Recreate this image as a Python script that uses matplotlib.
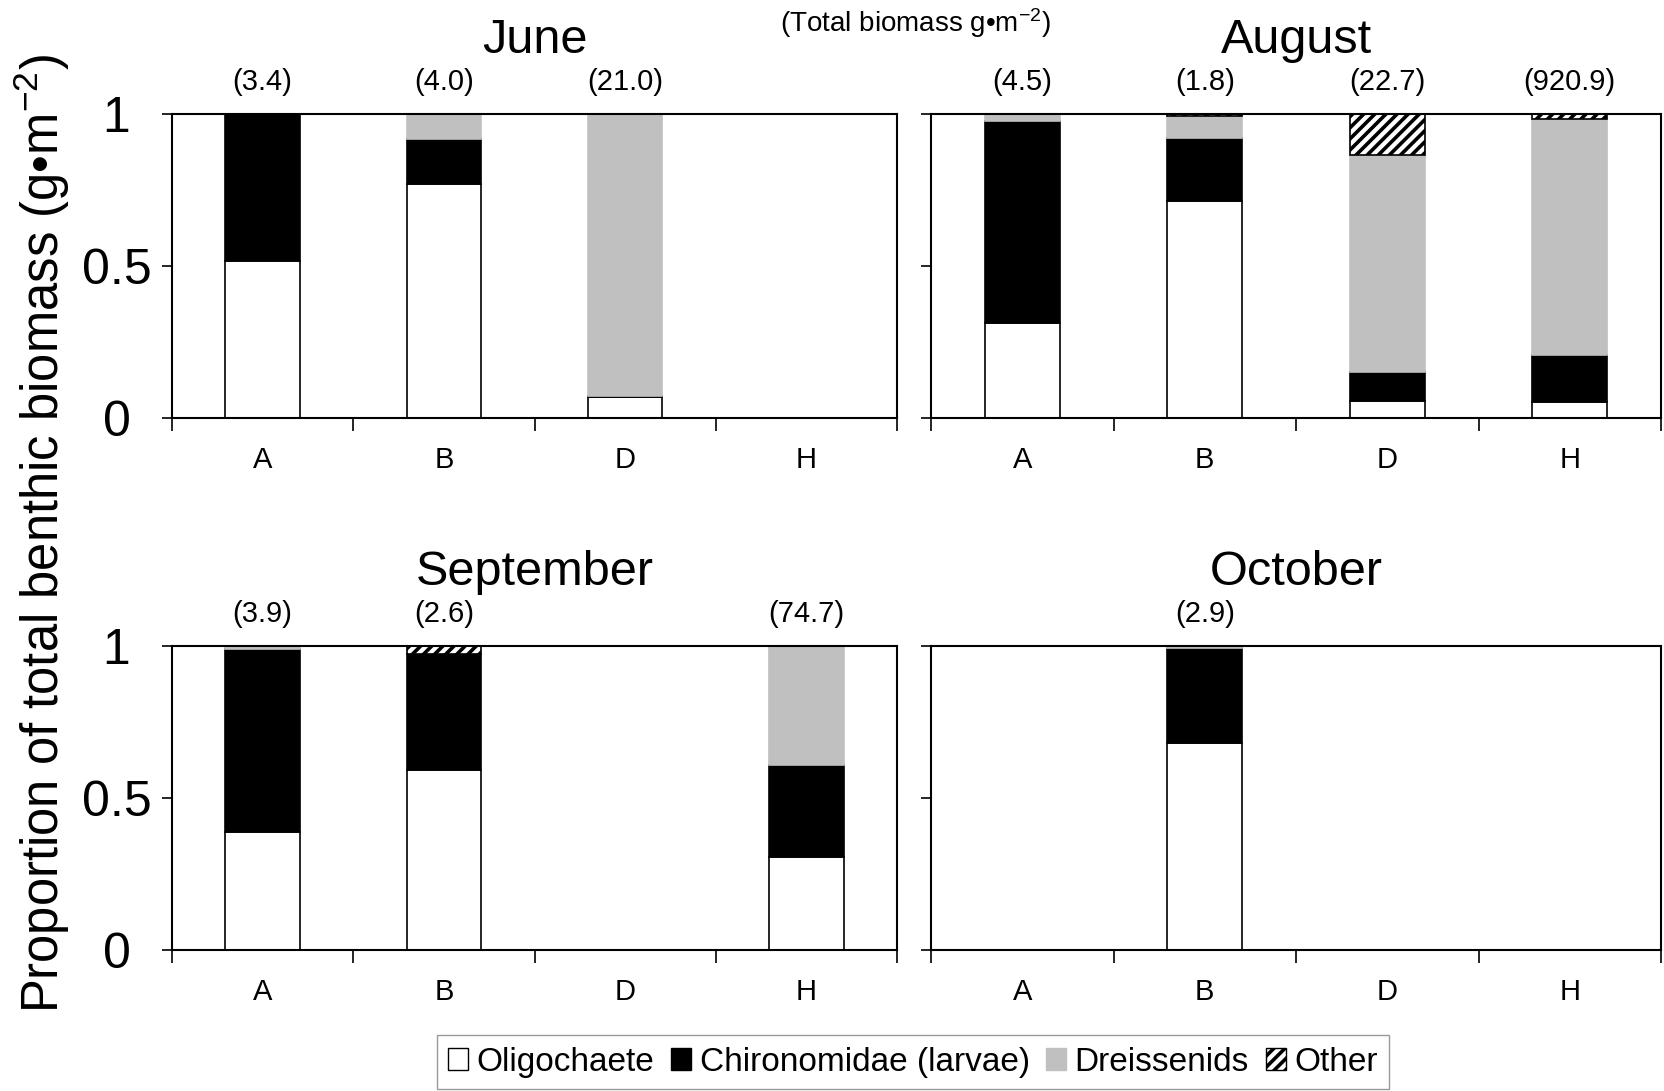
import numpy as np
import matplotlib
matplotlib.use('Agg')
import matplotlib.pyplot as plt
from matplotlib.patches import Patch

plt.rcParams['font.family'] = ['Liberation Sans', 'DejaVu Sans']
plt.rcParams['mathtext.fontset'] = 'custom'
plt.rcParams['mathtext.rm'] = 'Liberation Sans'
plt.rcParams['mathtext.default'] = 'regular'
plt.rcParams['hatch.linewidth'] = 2.6

months = ['June', 'August', 'September', 'October']
sites = ['A', 'B', 'D', 'H']

# proportion of total benthic biomass, rows = months, cols = sites
oligo = [[0.516, 0.769, 0.069, 0.0],
         [0.312, 0.715, 0.056, 0.051],
         [0.389, 0.593, 0.0, 0.307],
         [0.0, 0.681, 0.0, 0.0]]
chiro = [[0.484, 0.149, 0.004, 0.0],
         [0.664, 0.207, 0.095, 0.155],
         [0.602, 0.381, 0.0, 0.303],
         [0.0, 0.312, 0.0, 0.0]]
dreiss = [[0.0, 0.082, 0.927, 0.0],
          [0.024, 0.071, 0.714, 0.779],
          [0.009, 0.0, 0.0, 0.390],
          [0.0, 0.007, 0.0, 0.0]]
other = [[0.0, 0.0, 0.0, 0.0],
         [0.0, 0.007, 0.135, 0.015],
         [0.0, 0.026, 0.0, 0.0],
         [0.0, 0.0, 0.0, 0.0]]

# total biomass (g m-2), None where no sample
totals = [[3.4, 4.0, 21.0, None],
          [4.5, 1.8, 22.7, 920.9],
          [3.9, 2.6, None, 74.7],
          [None, 2.9, None, None]]

legend_labels = ['Oligochaete', 'Chironomidae (larvae)', 'Dreissenids', 'Other']

grey = '#c0c0c0'
W, H = 1664, 1091

fig = plt.figure(figsize=(W / 100, H / 100), dpi=100)

# axes boxes in pixels: left, top, right, bottom
boxes = [(172, 114, 897, 418), (931, 114, 1661, 418),
         (172, 646, 897, 950), (931, 646, 1661, 950)]

x = np.arange(len(sites)) + 0.5
w = 0.41

styles = [dict(color='white', edgecolor='black'),
          dict(color='black', edgecolor='black'),
          dict(color=grey, edgecolor=grey),
          dict(color='white', edgecolor='black', hatch='///')]

for i, m in enumerate(months):
    l, t, r, b = boxes[i]
    ax = fig.add_axes([l / W, 1 - b / H, (r - l) / W, (b - t) / H])

    bottom = np.zeros(len(sites))
    for vals, st in zip([oligo[i], chiro[i], dreiss[i], other[i]], styles):
        vals = np.array(vals)
        keep = vals > 0
        if keep.any():
            ax.bar(x[keep], vals[keep], w, bottom=bottom[keep], linewidth=1.2, **st)
        bottom = bottom + vals

    for j, v in enumerate(totals[i]):
        if v is not None:
            ax.annotate('(%.1f)' % v, xy=(x[j], 1), xycoords=('data', 'axes fraction'),
                        xytext=(0, 23), textcoords='offset points',
                        ha='center', va='center', fontsize=21)

    ax.set_title(m, fontsize=35, pad=44)
    ax.set_xlim(0, 4)
    ax.set_ylim(0, 1)

    ax.set_xticks(x)
    ax.set_xticklabels(sites)
    ax.set_xticks(np.arange(5), minor=True)
    ax.tick_params(axis='x', which='major', length=0, labelsize=21, pad=20)
    ax.tick_params(axis='x', which='minor', direction='out', length=9, width=1.2)

    ax.set_yticks([0, 0.5, 1])
    if i % 2 == 0:
        ax.set_yticklabels(['0', '0.5', '1'])
        for lab in ax.get_yticklabels():
            lab.set_ha('center')
    else:
        ax.set_yticklabels([])
    ax.tick_params(axis='y', direction='out', length=7, width=1.2, labelsize=36, pad=33)

    for sp in ax.spines.values():
        sp.set_linewidth(1.5)

fig.text(42 / W, 1 - 534 / H, 'Proportion of total benthic biomass (g\u2022m$^{-2}$)',
         rotation=90, ha='center', va='center', fontsize=36.5)
fig.text(915 / W, 1 - 23 / H, '(Total biomass g\u2022m$^{-2}$)',
         ha='center', va='center', fontsize=20)

handles = [Patch(facecolor='white', edgecolor='black'),
           Patch(facecolor='black', edgecolor='black'),
           Patch(facecolor=grey, edgecolor=grey),
           Patch(facecolor='white', edgecolor='black', hatch='///')]
fig.legend(handles, legend_labels, loc='upper center', bbox_to_anchor=(913 / W, 1 - 1035 / H),
           borderaxespad=0, ncol=4, fontsize=24, frameon=True, fancybox=False,
           edgecolor='#808080', handlelength=0.6, handleheight=0.6, handletextpad=0.25,
           columnspacing=0.5, borderpad=0.35)

fig.savefig('out.png', dpi=100)
